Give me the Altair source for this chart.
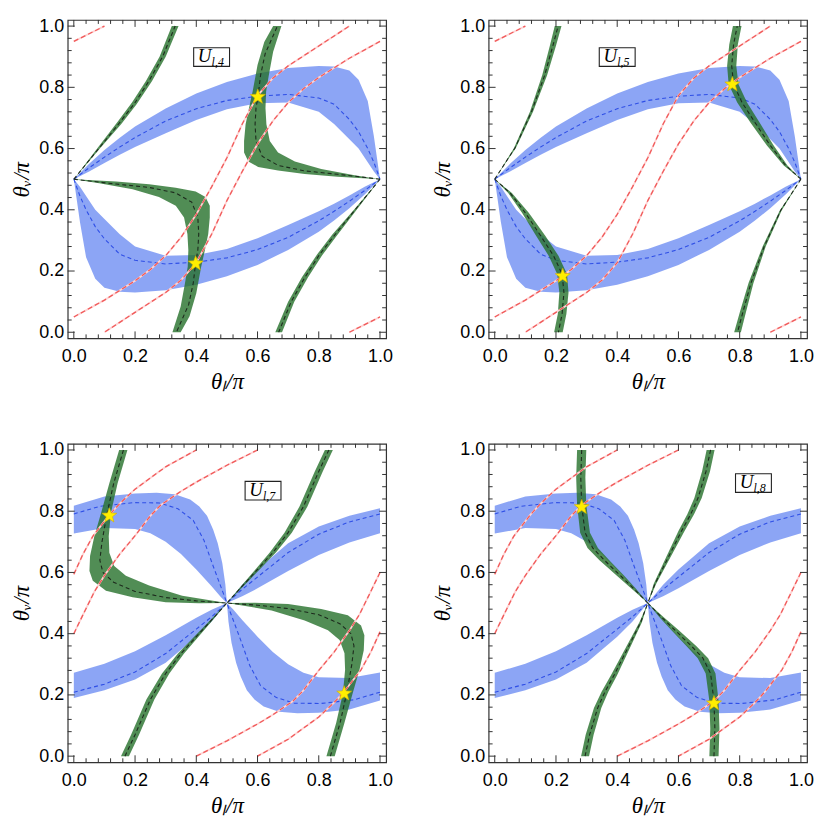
import math
import altair as alt
import pandas as pd

# ---------------- values ----------------
TICK_MAJOR = [0.0, 0.2, 0.4, 0.6, 0.8, 1.0]
TICK_MINOR = [0.04, 0.08, 0.12, 0.16, 0.24, 0.28, 0.32, 0.36, 0.44, 0.48,
              0.52, 0.56, 0.64, 0.68, 0.72, 0.76, 0.84, 0.88, 0.92, 0.96]

# ---- panels 1 & 2: blue band (two lobes) ----
UP_X   = [0, 0.05, 0.1, 0.15, 0.2, 0.3, 0.4, 0.5, 0.6, 0.7, 0.8, 0.85, 0.9, 0.93, 0.96, 0.98, 1.0]
UP_TOP = [0.5, 0.55, 0.595, 0.635, 0.672, 0.731, 0.780, 0.817, 0.845, 0.863, 0.870, 0.868, 0.855, 0.825, 0.755, 0.64, 0.5]
UP_MID = [0.5, 0.537, 0.572, 0.605, 0.636, 0.69, 0.73, 0.757, 0.771, 0.777, 0.765, 0.745, 0.695, 0.655, 0.6, 0.555, 0.5]
UP_BOT = [0.5, 0.525, 0.553, 0.58, 0.605, 0.65, 0.693, 0.728, 0.748, 0.75, 0.72, 0.68, 0.63, 0.6, 0.555, 0.525, 0.5]
LO_X   = [0, 0.02, 0.04, 0.07, 0.1, 0.15, 0.2, 0.3, 0.4, 0.5, 0.6, 0.7, 0.8, 0.85, 0.9, 0.95, 1.0]
LO_BOT = [0.5, 0.36, 0.245, 0.175, 0.145, 0.132, 0.13, 0.137, 0.155, 0.183, 0.22, 0.269, 0.328, 0.365, 0.405, 0.45, 0.5]
LO_MID = [0.5, 0.445, 0.4, 0.345, 0.305, 0.255, 0.235, 0.223, 0.229, 0.243, 0.27, 0.31, 0.364, 0.395, 0.428, 0.463, 0.5]
LO_TOP = [0.5, 0.475, 0.445, 0.4, 0.37, 0.32, 0.28, 0.25, 0.252, 0.272, 0.307, 0.35, 0.395, 0.42, 0.447, 0.475, 0.5]

# ---- panels 1 & 2: red curves ----
RA_X = [0, 0.1, 0.2, 0.25, 0.3, 0.35, 0.4, 0.45, 0.5, 0.55, 0.6, 0.65, 0.7, 0.8, 0.9]
RA_Y = [0.05, 0.105, 0.168, 0.205, 0.25, 0.31, 0.385, 0.475, 0.57, 0.68, 0.773, 0.83, 0.87, 0.935, 1.0]
RB_X = [1, 0.9, 0.8, 0.75, 0.7, 0.65, 0.6, 0.55, 0.5, 0.45, 0.4, 0.35, 0.3, 0.2, 0.1]
RB_Y = [0.95, 0.895, 0.832, 0.795, 0.75, 0.69, 0.615, 0.525, 0.43, 0.32, 0.227, 0.17, 0.13, 0.065, 0.0]
RS1_X = [0, 0.05, 0.1]
RS1_Y = [0.95, 0.975, 1.0]
RS2_X = [0.9, 0.95, 1.0]
RS2_Y = [0.0, 0.025, 0.05]

# ---- panel 1 green ----
P1A_LX = [0, 0.08, 0.145, 0.19, 0.235, 0.28, 0.32]
P1A_LY = [0.5, 0.605, 0.69, 0.75, 0.82, 0.9, 1.0]
P1A_RX = [0, 0.085, 0.155, 0.205, 0.255, 0.3, 0.342]
P1A_RY = [0.5, 0.6, 0.68, 0.745, 0.82, 0.9, 1.0]
P1A_CX = [0, 0.083, 0.15, 0.198, 0.245, 0.29, 0.331]
P1A_CY = [0.5, 0.602, 0.685, 0.747, 0.82, 0.9, 1.0]
P1Am_LX = [1, 0.92, 0.855, 0.81, 0.765, 0.72, 0.68]
P1Am_LY = [0.5, 0.395, 0.31, 0.25, 0.18, 0.1, 0.0]
P1Am_RX = [1, 0.915, 0.845, 0.795, 0.745, 0.7, 0.658]
P1Am_RY = [0.5, 0.4, 0.32, 0.255, 0.18, 0.1, 0.0]
P1Am_CX = [1, 0.917, 0.85, 0.802, 0.755, 0.71, 0.669]
P1Am_CY = [0.5, 0.398, 0.315, 0.253, 0.18, 0.1, 0.0]
P1B_OX = [0, 0.138, 0.246, 0.333, 0.398, 0.43, 0.444, 0.444, 0.439, 0.428, 0.416, 0.4, 0.378, 0.349]
P1B_OY = [0.5, 0.492, 0.483, 0.472, 0.46, 0.442, 0.413, 0.375, 0.321, 0.268, 0.214, 0.127, 0.052, 0.0]
P1B_IX = [0, 0.083, 0.192, 0.278, 0.333, 0.36, 0.371, 0.374, 0.372, 0.363, 0.349, 0.322]
P1B_IY = [0.5, 0.487, 0.467, 0.442, 0.413, 0.375, 0.321, 0.268, 0.214, 0.16, 0.084, 0.0]
P1B_CX = [0, 0.138, 0.246, 0.333, 0.385, 0.405, 0.408, 0.405, 0.398, 0.39, 0.375, 0.335]
P1B_CY = [0.5, 0.484, 0.473, 0.455, 0.425, 0.375, 0.321, 0.268, 0.227, 0.16, 0.09, 0.0]
P1Bm_OX = [1, 0.862, 0.754, 0.667, 0.602, 0.57, 0.556, 0.556, 0.561, 0.572, 0.584, 0.6, 0.622, 0.651]
P1Bm_OY = [0.5, 0.508, 0.517, 0.528, 0.54, 0.558, 0.587, 0.625, 0.679, 0.732, 0.786, 0.873, 0.948, 1.0]
P1Bm_IX = [1, 0.917, 0.808, 0.722, 0.667, 0.64, 0.629, 0.626, 0.628, 0.637, 0.651, 0.678]
P1Bm_IY = [0.5, 0.513, 0.533, 0.558, 0.587, 0.625, 0.679, 0.732, 0.786, 0.84, 0.916, 1.0]
P1Bm_CX = [1, 0.862, 0.754, 0.667, 0.615, 0.595, 0.592, 0.595, 0.602, 0.61, 0.625, 0.665]
P1Bm_CY = [0.5, 0.516, 0.527, 0.545, 0.575, 0.625, 0.679, 0.732, 0.773, 0.84, 0.91, 1.0]
P1_STAR_X = [0.398, 0.601]
P1_STAR_Y = [0.227, 0.771]

# ---- panel 2 green ----
P2A_LX = [0, 0.063, 0.115, 0.155, 0.18, 0.196]
P2A_RX = [0, 0.069, 0.125, 0.171, 0.2, 0.218]
P2A_CX = [0, 0.066, 0.12, 0.163, 0.19, 0.207]
P2A_Y  = [0.5, 0.602, 0.72, 0.839, 0.936, 1.0]
P2Am_LX = [1, 0.931, 0.875, 0.829, 0.8, 0.782]
P2Am_RX = [1, 0.937, 0.885, 0.845, 0.82, 0.804]
P2Am_CX = [1, 0.934, 0.88, 0.837, 0.81, 0.793]
P2Am_Y  = [0.5, 0.398, 0.28, 0.161, 0.064, 0.0]
P2B_LX = [0, 0.044, 0.089, 0.135, 0.176, 0.204, 0.211, 0.206, 0.194]
P2B_RX = [0, 0.056, 0.111, 0.165, 0.208, 0.236, 0.241, 0.234, 0.222]
P2B_CX = [0, 0.05, 0.1, 0.15, 0.192, 0.22, 0.226, 0.22, 0.208]
P2B_Y  = [0.5, 0.455, 0.39, 0.315, 0.25, 0.19, 0.13, 0.06, 0.0]
P2Bm_LX = [1, 0.944, 0.889, 0.835, 0.792, 0.764, 0.759, 0.766, 0.778]
P2Bm_RX = [1, 0.956, 0.911, 0.865, 0.824, 0.796, 0.789, 0.794, 0.806]
P2Bm_CX = [1, 0.95, 0.9, 0.85, 0.808, 0.78, 0.774, 0.78, 0.792]
P2Bm_Y  = [0.5, 0.545, 0.61, 0.685, 0.75, 0.81, 0.87, 0.94, 1.0]
P2_STAR_X = [0.222, 0.776]
P2_STAR_Y = [0.186, 0.812]

# ---- panels 3 & 4: blue band (four arms) ----
A_TOP_X = [0, 0.1, 0.2, 0.27, 0.33, 0.38, 0.41, 0.435, 0.455, 0.47, 0.485, 0.495, 0.5]
A_TOP_Y = [0.818, 0.848, 0.858, 0.86, 0.855, 0.838, 0.815, 0.785, 0.74, 0.695, 0.63, 0.56, 0.5]
A_BOT_X = [0, 0.1, 0.2, 0.25, 0.3, 0.35, 0.4, 0.45, 0.48, 0.5]
A_BOT_Y = [0.727, 0.745, 0.742, 0.728, 0.70, 0.66, 0.61, 0.555, 0.52, 0.5]
A_MID_X = [0, 0.085, 0.194, 0.28, 0.34, 0.39, 0.425, 0.455, 0.483, 0.5]
A_MID_Y = [0.791, 0.816, 0.828, 0.827, 0.808, 0.77, 0.705, 0.621, 0.546, 0.5]
D_BOT_X = [1, 0.9, 0.8, 0.73, 0.67, 0.62, 0.59, 0.565, 0.545, 0.53, 0.515, 0.505, 0.5]
D_BOT_Y = [0.182, 0.152, 0.142, 0.14, 0.145, 0.162, 0.185, 0.215, 0.26, 0.305, 0.37, 0.44, 0.5]
D_TOP_X = [1, 0.9, 0.8, 0.75, 0.7, 0.65, 0.6, 0.55, 0.52, 0.5]
D_TOP_Y = [0.273, 0.255, 0.258, 0.272, 0.30, 0.34, 0.39, 0.445, 0.48, 0.5]
D_MID_X = [1, 0.915, 0.806, 0.72, 0.66, 0.61, 0.575, 0.545, 0.517, 0.5]
D_MID_Y = [0.209, 0.184, 0.172, 0.173, 0.192, 0.23, 0.295, 0.379, 0.454, 0.5]
C_X     = [0, 0.1, 0.2, 0.3, 0.4, 0.45, 0.5]
C_TOP   = [0.272, 0.302, 0.343, 0.395, 0.452, 0.478, 0.5]
C_MID   = [0.209, 0.235, 0.275, 0.335, 0.415, 0.455, 0.5]
C_BOT   = [0.19, 0.215, 0.25, 0.305, 0.39, 0.44, 0.5]
B_X     = [1, 0.9, 0.8, 0.7, 0.6, 0.55, 0.5]
B_TOP   = [0.81, 0.785, 0.75, 0.695, 0.61, 0.56, 0.5]
B_MID   = [0.791, 0.765, 0.725, 0.665, 0.585, 0.545, 0.5]
B_BOT   = [0.728, 0.698, 0.657, 0.605, 0.548, 0.522, 0.5]

# ---- panels 3 & 4: red curves ----
RC_X = [0, 0.03, 0.062, 0.116, 0.15, 0.2, 0.3, 0.4]
RC_Y = [0.594, 0.66, 0.718, 0.788, 0.825, 0.872, 0.945, 1.0]
RD_X = [0, 0.03, 0.067, 0.1, 0.15, 0.2, 0.25, 0.284, 0.35, 0.4, 0.5, 0.6]
RD_Y = [0.40, 0.462, 0.537, 0.59, 0.66, 0.72, 0.785, 0.82, 0.865, 0.895, 0.95, 1.0]
RE_X = [1, 0.97, 0.938, 0.884, 0.85, 0.8, 0.7, 0.6]
RE_Y = [0.406, 0.34, 0.282, 0.212, 0.175, 0.128, 0.055, 0.0]
RF_X = [1, 0.97, 0.933, 0.9, 0.85, 0.8, 0.75, 0.716, 0.65, 0.6, 0.5, 0.4]
RF_Y = [0.6, 0.538, 0.463, 0.41, 0.34, 0.28, 0.215, 0.18, 0.135, 0.105, 0.05, 0.0]

# ---- panel 3 green ----
P3A_LX = [0.154, 0.187, 0.237, 0.288, 0.34, 0.393, 0.446, 0.5]
P3A_RX = [0.18, 0.213, 0.263, 0.312, 0.36, 0.407, 0.454, 0.5]
P3A_CX = [0.167, 0.2, 0.25, 0.3, 0.35, 0.4, 0.45, 0.5]
P3A_Y  = [0.0, 0.07, 0.185, 0.27, 0.335, 0.39, 0.445, 0.5]
P3Am_LX = [0.82, 0.787, 0.737, 0.688, 0.64, 0.593, 0.546, 0.5]
P3Am_RX = [0.846, 0.813, 0.763, 0.712, 0.66, 0.607, 0.554, 0.5]
P3Am_CX = [0.833, 0.8, 0.75, 0.7, 0.65, 0.6, 0.55, 0.5]
P3Am_Y  = [1.0, 0.93, 0.815, 0.73, 0.665, 0.61, 0.555, 0.5]
P3B_OX = [0.148, 0.116, 0.089, 0.067, 0.053, 0.051, 0.062, 0.105, 0.192, 0.30, 0.408, 0.5]
P3B_OY = [1.0, 0.891, 0.794, 0.718, 0.654, 0.605, 0.573, 0.54, 0.519, 0.503, 0.499, 0.5]
P3B_IX = [0.175, 0.143, 0.121, 0.114, 0.116, 0.132, 0.17, 0.246, 0.354, 0.5]
P3B_IY = [1.0, 0.891, 0.794, 0.718, 0.664, 0.621, 0.589, 0.557, 0.524, 0.5]
P3B_CX = [0.162, 0.13, 0.108, 0.092, 0.085, 0.095, 0.13, 0.2, 0.3, 0.4, 0.5]
P3B_CY = [1.0, 0.89, 0.79, 0.70, 0.64, 0.6, 0.568, 0.538, 0.518, 0.507, 0.5]
P3Bm_OX = [0.852, 0.884, 0.911, 0.933, 0.947, 0.949, 0.938, 0.895, 0.808, 0.70, 0.592, 0.5]
P3Bm_OY = [0.0, 0.109, 0.206, 0.282, 0.346, 0.395, 0.427, 0.46, 0.481, 0.497, 0.501, 0.5]
P3Bm_IX = [0.825, 0.857, 0.879, 0.886, 0.884, 0.868, 0.83, 0.754, 0.646, 0.5]
P3Bm_IY = [0.0, 0.109, 0.206, 0.282, 0.336, 0.379, 0.411, 0.443, 0.476, 0.5]
P3Bm_CX = [0.838, 0.87, 0.892, 0.908, 0.915, 0.905, 0.87, 0.8, 0.7, 0.6, 0.5]
P3Bm_CY = [0.0, 0.11, 0.21, 0.3, 0.36, 0.4, 0.432, 0.462, 0.482, 0.493, 0.5]
P3_STAR_X = [0.116, 0.883]
P3_STAR_Y = [0.788, 0.207]

# ---- panel 4 green ----
P4A_LX = [0.269, 0.266, 0.269, 0.279, 0.303, 0.342, 0.398, 0.448, 0.5]
P4A_RX = [0.299, 0.296, 0.299, 0.311, 0.337, 0.374, 0.422, 0.462, 0.5]
P4A_CX = [0.284, 0.281, 0.284, 0.295, 0.32, 0.358, 0.41, 0.455, 0.5]
P4A_Y  = [1.0, 0.91, 0.82, 0.73, 0.68, 0.64, 0.59, 0.546, 0.5]
P4Am_LX = [0.701, 0.704, 0.701, 0.689, 0.663, 0.626, 0.578, 0.538, 0.5]
P4Am_RX = [0.731, 0.734, 0.731, 0.721, 0.697, 0.658, 0.602, 0.552, 0.5]
P4Am_CX = [0.716, 0.719, 0.716, 0.705, 0.68, 0.642, 0.59, 0.545, 0.5]
P4Am_Y  = [0.0, 0.09, 0.18, 0.27, 0.32, 0.36, 0.41, 0.454, 0.5]
P4B_LX = [0.282, 0.297, 0.324, 0.349, 0.38, 0.427, 0.473, 0.5]
P4B_RX = [0.308, 0.323, 0.348, 0.371, 0.4, 0.441, 0.481, 0.5]
P4B_CX = [0.295, 0.31, 0.336, 0.36, 0.39, 0.434, 0.477, 0.5]
P4B_Y  = [0.0, 0.07, 0.157, 0.21, 0.265, 0.352, 0.438, 0.5]
P4Bm_LX = [0.692, 0.677, 0.652, 0.629, 0.6, 0.559, 0.519, 0.5]
P4Bm_RX = [0.718, 0.703, 0.676, 0.651, 0.62, 0.573, 0.527, 0.5]
P4Bm_CX = [0.705, 0.69, 0.664, 0.64, 0.61, 0.566, 0.523, 0.5]
P4Bm_Y  = [1.0, 0.93, 0.843, 0.79, 0.735, 0.648, 0.562, 0.5]
P4_STAR_X = [0.284, 0.716]
P4_STAR_Y = [0.816, 0.175]

LABELS = ["l,4", "l,5", "l,7", "l,8"]
LABEL_X = [0.45, 0.40, 0.618, 0.845]
LABEL_Y = [0.899, 0.899, 0.867, 0.892]

# ---------------- styling ----------------
W = H = 320
DOM = [-0.02, 1.02]
BLUE = "#6f8ff2"
GREEN = "#25702a"
BLUE_DASH = "#2f4fe6"
BLACK_DASH = "#1d2a1d"
RED = "#f05a5a"
RED_UNDER = "#ffd3d3"
MAJOR_LEN, MINOR_LEN = 7, 4

XAXIS = alt.Axis(values=TICK_MAJOR, format=".1f", ticks=False, domain=False, grid=False,
                 labelFont="Liberation Sans", labelFontSize=18, labelColor="black",
                 labelPadding=9, labelFlush=False,
                 title="θₗ/π", titleFont="Liberation Serif", titleFontStyle="italic",
                 titleFontWeight="normal", titleFontSize=23, titleColor="black", titlePadding=5)
YAXIS = alt.Axis(values=TICK_MAJOR, format=".1f", ticks=False, domain=False, grid=False,
                 labelFont="Liberation Sans", labelFontSize=18, labelColor="black",
                 labelPadding=4, labelFlush=False,
                 title="θᵥ/π", titleFont="Liberation Serif", titleFontStyle="italic",
                 titleFontWeight="normal", titleFontSize=23, titleColor="black", titlePadding=5)


def X():
    return alt.X("x:Q", scale=alt.Scale(domain=DOM, nice=False, zero=False), axis=XAXIS)


def Y():
    return alt.Y("y:Q", scale=alt.Scale(domain=DOM, nice=False, zero=False), axis=YAXIS)


def poly_df(polys):
    rows = []
    for k, (x1, y1, x2, y2) in enumerate(polys):
        xs = list(x1) + list(reversed(x2))
        ys = list(y1) + list(reversed(y2))
        for i, (x, y) in enumerate(zip(xs, ys)):
            rows.append({"id": k, "i": i, "x": x, "y": y})
    return pd.DataFrame(rows)


def line_df(lines):
    rows = []
    for k, (xs, ys) in enumerate(lines):
        for i, (x, y) in enumerate(zip(xs, ys)):
            rows.append({"id": k, "i": i, "x": x, "y": y})
    return pd.DataFrame(rows)


def star_path(n=5, r_in=0.42):
    pts = []
    for k in range(2 * n):
        r = 1.0 if k % 2 == 0 else r_in
        a = -math.pi / 2 + k * math.pi / n
        pts.append(f"{r * math.cos(a):.3f},{r * math.sin(a) + 0.1:.3f}")
    return "M" + "L".join(pts) + "Z"


STAR = star_path()
BOX = "M-1,-0.52L1,-0.52L1,0.52L-1,0.52Z"


def tick_layers():
    layers = []
    for vals, ln in ((TICK_MAJOR, MAJOR_LEN), (TICK_MINOR, MINOR_LEN)):
        dx = pd.DataFrame({"x": vals})
        dy = pd.DataFrame({"y": vals})
        base = dict(color="#333333", strokeWidth=1)
        layers.append(alt.Chart(dx).mark_rule(**base).encode(x=X(), y=alt.value(H), y2=alt.value(H - ln)))
        layers.append(alt.Chart(dx).mark_rule(**base).encode(x=X(), y=alt.value(0), y2=alt.value(ln)))
        layers.append(alt.Chart(dy).mark_rule(**base).encode(y=Y(), x=alt.value(0), x2=alt.value(ln)))
        layers.append(alt.Chart(dy).mark_rule(**base).encode(y=Y(), x=alt.value(W), x2=alt.value(W - ln)))
    return layers


def panel(blue_polys, blue_lines, green_polys, green_lines, red_lines, sx, sy, k):
    layers = []
    layers.append(alt.Chart(poly_df(blue_polys)).mark_line(filled=True, color=BLUE, fillOpacity=0.8, strokeWidth=0)
                  .encode(x=X(), y=Y(), detail="id:N", order="i:Q"))
    layers.append(alt.Chart(line_df(blue_lines)).mark_line(color=BLUE_DASH, strokeWidth=1.1, strokeDash=[4, 3])
                  .encode(x=X(), y=Y(), detail="id:N", order="i:Q"))
    layers.append(alt.Chart(poly_df(green_polys)).mark_line(filled=True, color=GREEN, fillOpacity=0.8, strokeWidth=0)
                  .encode(x=X(), y=Y(), detail="id:N", order="i:Q"))
    layers.append(alt.Chart(line_df(green_lines)).mark_line(color=BLACK_DASH, strokeWidth=1.1, strokeDash=[4, 3])
                  .encode(x=X(), y=Y(), detail="id:N", order="i:Q"))
    rdf = line_df(red_lines)
    layers.append(alt.Chart(rdf).mark_line(color=RED_UNDER, strokeWidth=1.8)
                  .encode(x=X(), y=Y(), detail="id:N", order="i:Q"))
    layers.append(alt.Chart(rdf).mark_line(color=RED, strokeWidth=1.3, strokeDash=[5, 3])
                  .encode(x=X(), y=Y(), detail="id:N", order="i:Q"))
    layers.append(alt.Chart(pd.DataFrame({"x": sx, "y": sy}))
                  .mark_point(shape=STAR, size=250, filled=True, fill="#ffee00", stroke="#d4b000",
                              strokeWidth=0.6, opacity=1)
                  .encode(x=X(), y=Y()))
    ldf = pd.DataFrame({"x": [LABEL_X[k]], "y": [LABEL_Y[k]], "s": [LABELS[k]]})
    layers.append(alt.Chart(ldf).mark_point(shape=BOX, size=1300, filled=True, fill="white",
                                            stroke="#222222", strokeWidth=1.1, opacity=1)
                  .encode(x=X(), y=Y()))
    layers.append(alt.Chart(ldf).mark_text(text="U", font="Liberation Serif", fontStyle="italic",
                                           fontSize=19, align="center", baseline="middle", dx=-7, dy=-1,
                                           color="black")
                  .encode(x=X(), y=Y()))
    layers.append(alt.Chart(ldf).mark_text(font="Liberation Serif", fontStyle="italic",
                                           fontSize=12, align="left", baseline="middle", dx=0, dy=5,
                                           color="black")
                  .encode(x=X(), y=Y(), text="s:N"))
    layers += tick_layers()
    return alt.layer(*layers).properties(width=W, height=H)


# ---- panel 1 ----
blue12_polys = [(UP_X, UP_TOP, UP_X, UP_BOT), (LO_X, LO_TOP, LO_X, LO_BOT)]
blue12_lines = [(UP_X, UP_MID), (LO_X, LO_MID)]
red12 = [(RA_X, RA_Y), (RB_X, RB_Y), (RS1_X, RS1_Y), (RS2_X, RS2_Y)]

p1 = panel(blue12_polys, blue12_lines,
           [(P1A_LX, P1A_LY, P1A_RX, P1A_RY), (P1Am_LX, P1Am_LY, P1Am_RX, P1Am_RY),
            (P1B_OX, P1B_OY, P1B_IX, P1B_IY), (P1Bm_OX, P1Bm_OY, P1Bm_IX, P1Bm_IY)],
           [(P1A_CX, P1A_CY), (P1Am_CX, P1Am_CY), (P1B_CX, P1B_CY), (P1Bm_CX, P1Bm_CY)],
           red12, P1_STAR_X, P1_STAR_Y, 0)

p2 = panel(blue12_polys, blue12_lines,
           [(P2A_LX, P2A_Y, P2A_RX, P2A_Y), (P2Am_LX, P2Am_Y, P2Am_RX, P2Am_Y),
            (P2B_LX, P2B_Y, P2B_RX, P2B_Y), (P2Bm_LX, P2Bm_Y, P2Bm_RX, P2Bm_Y)],
           [(P2A_CX, P2A_Y), (P2Am_CX, P2Am_Y), (P2B_CX, P2B_Y), (P2Bm_CX, P2Bm_Y)],
           red12, P2_STAR_X, P2_STAR_Y, 1)

blue34_polys = [(A_TOP_X, A_TOP_Y, A_BOT_X, A_BOT_Y), (D_TOP_X, D_TOP_Y, D_BOT_X, D_BOT_Y),
                (C_X, C_TOP, C_X, C_BOT), (B_X, B_TOP, B_X, B_BOT)]
blue34_lines = [(A_MID_X, A_MID_Y), (D_MID_X, D_MID_Y), (C_X, C_MID), (B_X, B_MID)]
red34 = [(RC_X, RC_Y), (RD_X, RD_Y), (RE_X, RE_Y), (RF_X, RF_Y)]

p3 = panel(blue34_polys, blue34_lines,
           [(P3A_LX, P3A_Y, P3A_RX, P3A_Y), (P3Am_LX, P3Am_Y, P3Am_RX, P3Am_Y),
            (P3B_OX, P3B_OY, P3B_IX, P3B_IY), (P3Bm_OX, P3Bm_OY, P3Bm_IX, P3Bm_IY)],
           [(P3A_CX, P3A_Y), (P3Am_CX, P3Am_Y), (P3B_CX, P3B_CY), (P3Bm_CX, P3Bm_CY)],
           red34, P3_STAR_X, P3_STAR_Y, 2)

p4 = panel(blue34_polys, blue34_lines,
           [(P4A_LX, P4A_Y, P4A_RX, P4A_Y), (P4Am_LX, P4Am_Y, P4Am_RX, P4Am_Y),
            (P4B_LX, P4B_Y, P4B_RX, P4B_Y), (P4Bm_LX, P4Bm_Y, P4Bm_RX, P4Bm_Y)],
           [(P4A_CX, P4A_Y), (P4Am_CX, P4Am_Y), (P4B_CX, P4B_Y), (P4Bm_CX, P4Bm_Y)],
           red34, P4_STAR_X, P4_STAR_Y, 3)

chart = alt.vconcat(
    alt.hconcat(p1, p2, spacing=38),
    alt.hconcat(p3, p4, spacing=38),
    spacing=46,
).properties(
    padding={"left": 2, "top": 6, "right": 0, "bottom": 0},
    background="white",
).configure_view(stroke="#333333", strokeWidth=1.2)

chart.save("out.html", embed_options={"renderer": "svg", "actions": False})
